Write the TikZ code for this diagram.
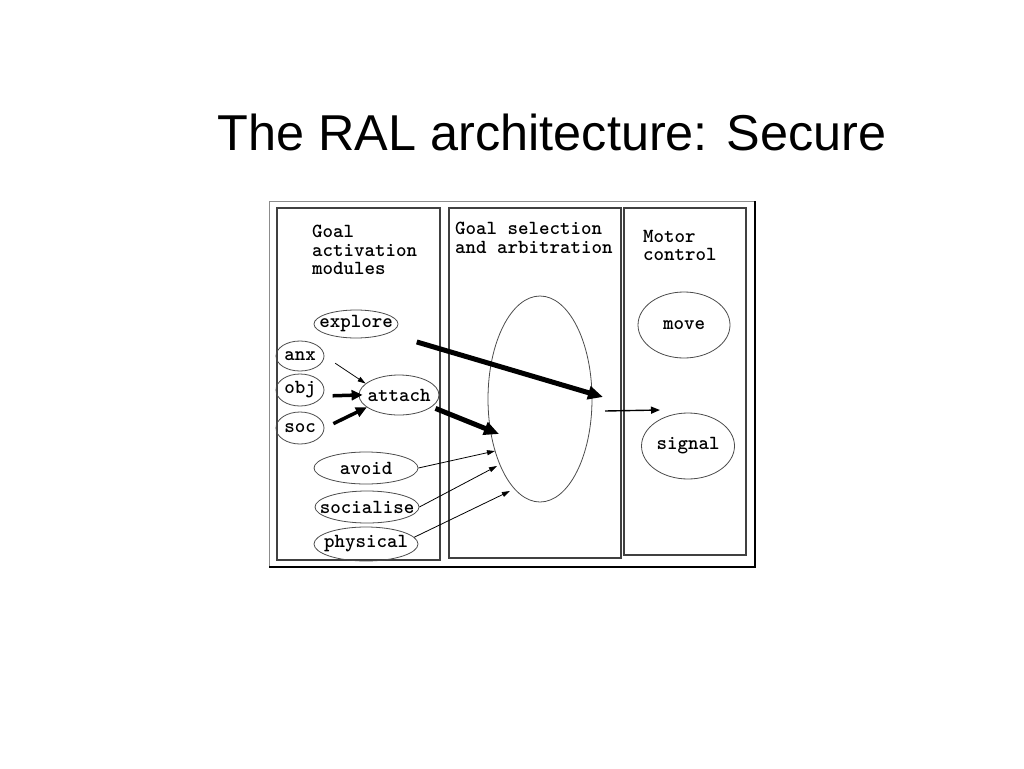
\documentclass[tikz,border=0pt]{standalone}
\usepackage{fontspec}
\setmainfont{Liberation Sans}
\usetikzlibrary{shapes.geometric,arrows.meta}
\tikzset{
  panel/.style={draw=black!75, line width=1.3pt},
  oval/.style={ellipse, draw=black!70, line width=0.8pt, inner xsep=-12pt, inner ysep=-4pt, font=\ttfamily\bfseries\fontsize{20}{18.5}\selectfont},
  heading/.style={anchor=north west, align=left, inner sep=0pt, font=\ttfamily\bfseries\fontsize{20}{18.5}\selectfont},
  bigarrow/.style={line width=5pt, -{Triangle[length=15pt,width=13pt]}},
  midarrow/.style={line width=1.4pt, -{Triangle[length=9pt,width=7pt]}},
  thinarrow/.style={line width=0.8pt, -{Triangle[length=8pt,width=5pt]}}
}
\begin{document}
\begin{tikzpicture}[x=1pt,y=-1pt]
\useasboundingbox[fill=white] (0,0) rectangle (1024,768);
% title
\node[font=\fontsize{50.4}{54}\selectfont, anchor=center] (title) at (552,132) {The RAL architecture: Secure};
% outer frame
\draw[black!45, line width=1pt] (269,567) -- (269,201) -- (755,201);
\draw[black, line width=2pt] (755,201) -- (755,567) -- (269,567);
% panels
\draw[panel] (277,208) rectangle (440,560);
\draw[panel] (449,208) rectangle (621,558);
\draw[panel] (624,208) rectangle (746,555);
% headings
\node[heading] (h1) at (312,225) {Goal\\activation\\modules};
\node[heading] (h2) at (455,222) {Goal selection\\and arbitration};
\node[heading] (h3) at (643,230) {Motor\\control};
% ellipses
\node[oval, minimum width=48pt, minimum height=30pt] (anx) at (300,356) {anx};
\node[oval, minimum width=48pt, minimum height=32pt] (obj) at (300,390) {obj};
\node[oval, minimum width=48pt, minimum height=32pt] (soc) at (300,428) {soc};
\node[oval, minimum width=84pt, minimum height=28pt] (explore) at (356,324) {explore};
\node[oval, minimum width=80pt, minimum height=40pt] (attach) at (399,395) {attach};
\node[oval, minimum width=104pt, minimum height=32pt] (avoid) at (366,468) {avoid};
\node[oval, minimum width=104pt, minimum height=32pt] (socialise) at (367,507) {socialise};
\node[oval, minimum width=104pt, minimum height=34pt] (physical) at (366,544) {physical};
\node[oval, minimum width=104pt, minimum height=206pt] (big) at (540,399) {};
\node[oval, minimum width=92pt, minimum height=66pt] (move) at (684,325) {move};
\node[oval, minimum width=93pt, minimum height=66pt] (signal) at (688,446) {signal};
% arrow end points
\coordinate (tipA) at (603,397);
\coordinate (tipB) at (499,434);
\coordinate (tipC) at (495,451);
\coordinate (tipD) at (497,466);
\coordinate (tipE) at (510,491);
\coordinate (mA) at (605,411);
\coordinate (mB) at (660,410);
% connectors
\draw[bigarrow, shorten <=30pt] (explore) -- (tipA);
\draw[bigarrow, shorten <=4pt] (attach.-20) -- (tipB);
\draw[thinarrow, shorten <=13pt] (anx.east) -- (attach.161);
\draw[bigarrow, line width=3.5pt, -{Triangle[length=11pt,width=10pt]}, shorten <=10pt, shorten >=-4pt] (obj.-15) -- (attach.west);
\draw[bigarrow, line width=3.5pt, -{Triangle[length=11pt,width=10pt]}, shorten <=10pt] (soc.east) -- (attach.201);
\draw[thinarrow] (avoid.east) -- (tipC);
\draw[thinarrow] (socialise.east) -- (tipD);
\draw[thinarrow] (physical.8) -- (tipE);
\draw[midarrow] (mA) -- (mB);
\end{tikzpicture}
\end{document}
